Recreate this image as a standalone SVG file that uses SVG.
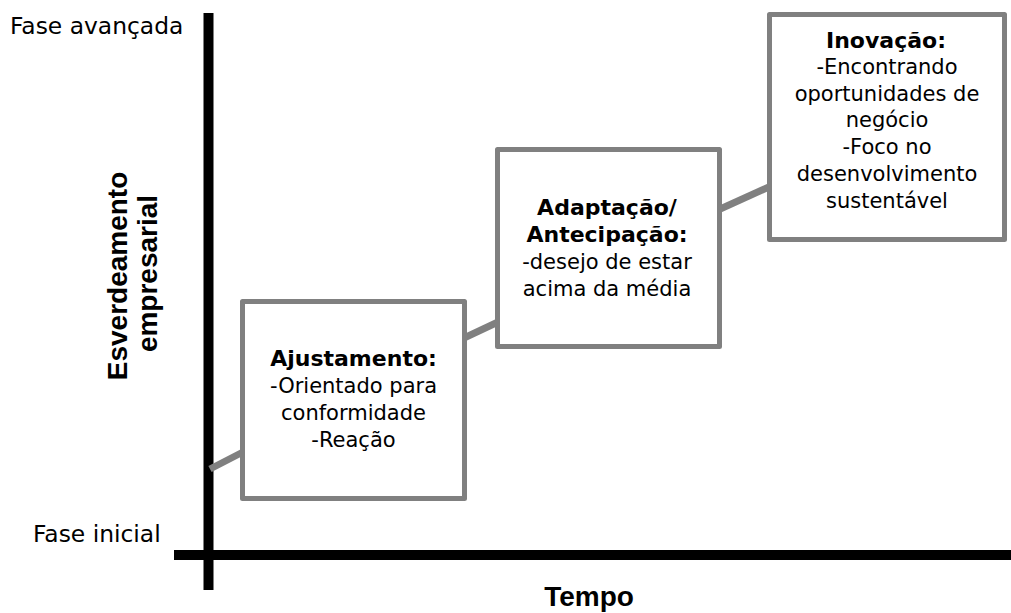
<svg xmlns="http://www.w3.org/2000/svg" width="1011" height="613" viewBox="0 0 1011 613">
<style>
.box{fill:#fff;stroke:#808080;stroke-width:5;stroke-linejoin:round}
.con{stroke:#808080;stroke-width:7;fill:none}
.axis{stroke:#000;stroke-width:10;fill:none}
.t{font-family:"DejaVu Sans",Verdana,sans-serif;font-size:21px;fill:#000;text-anchor:middle}
.b{font-weight:bold;font-size:22px}
.lab{font-family:"DejaVu Sans",Verdana,sans-serif;font-size:23.4px;fill:#000}
.ax{font-family:"Liberation Sans",Arial,sans-serif;font-weight:bold;font-size:28px;fill:#000;text-anchor:middle}
</style>
<rect width="1011" height="613" fill="#fff"/>
<g id="axes">
<line class="axis" x1="208.5" y1="13" x2="208.5" y2="590"/>
<line class="axis" x1="174" y1="555" x2="1011" y2="555"/>
</g>
<g id="labels">
<text class="lab" x="10" y="34">Fase avançada</text>
<text class="lab" x="33" y="542">Fase inicial</text>
<text class="ax" transform="translate(127,276) rotate(-90)">Esverdeamento</text>
<text class="ax" transform="translate(157,273.5) rotate(-90)">empresarial</text>
<text class="ax" x="589" y="606">Tempo</text>
</g>
<g id="connectors">
<line class="con" x1="210" y1="469" x2="243" y2="452"/>
<line class="con" x1="464" y1="338" x2="498" y2="322"/>
<line class="con" x1="718" y1="210" x2="771" y2="186"/>
</g>
<g id="node-ajustamento">
<rect class="box" x="242.5" y="301.5" width="222" height="197"/>
<text class="t b" x="353.5" y="366">Ajustamento:</text>
<text class="t" x="353.5" y="393">-Orientado para</text>
<text class="t" x="353.5" y="420">conformidade</text>
<text class="t" x="353.5" y="447">-Reação</text>
</g>
<g id="node-adaptacao">
<rect class="box" x="497.5" y="149.5" width="222" height="197"/>
<text class="t b" x="607" y="215">Adaptação/</text>
<text class="t b" x="607" y="242">Antecipação:</text>
<text class="t" x="607" y="269">-desejo de estar</text>
<text class="t" x="607" y="296">acima da média</text>
</g>
<g id="node-inovacao">
<rect class="box" x="769.5" y="14.5" width="235" height="225"/>
<text class="t b" x="886" y="48">Inovação:</text>
<text class="t" x="887" y="74">-Encontrando</text>
<text class="t" x="887" y="101">oportunidades de</text>
<text class="t" x="887" y="127">negócio</text>
<text class="t" x="887" y="154">-Foco no</text>
<text class="t" x="887" y="181">desenvolvimento</text>
<text class="t" x="887" y="208">sustentável</text>
</g>
</svg>
